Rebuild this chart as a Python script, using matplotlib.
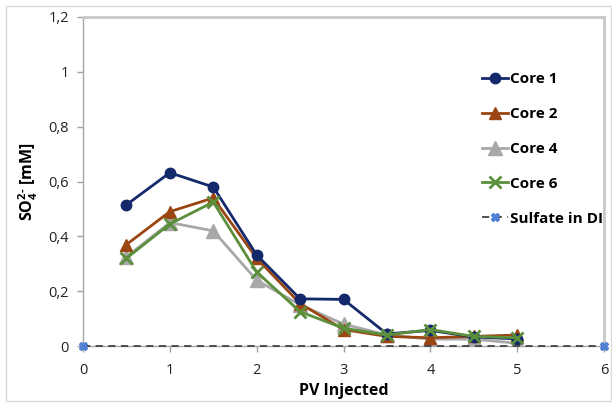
import matplotlib
matplotlib.use("Agg")
import matplotlib.pyplot as plt
from matplotlib.patches import Rectangle

plt.rcParams['font.family'] = ['Open Sans', 'DejaVu Sans']
plt.rcParams['mathtext.fontset'] = 'custom'
plt.rcParams['mathtext.bf'] = 'Open Sans:bold'
plt.rcParams['mathtext.rm'] = 'Open Sans:bold'
plt.rcParams['mathtext.default'] = 'bf'

pv = [0.5, 1, 1.5, 2, 2.5, 3, 3.5, 4, 4.5, 5]
core1 = [0.515, 0.632, 0.58, 0.332, 0.172, 0.17, 0.044, 0.057, 0.033, 0.026]
core2 = [0.37, 0.49, 0.54, 0.32, 0.155, 0.06, 0.035, 0.03, 0.035, 0.04]
core4 = [0.325, 0.45, 0.42, 0.24, 0.15, 0.08, 0.04, 0.025, 0.025, 0.01]
core6 = [0.32, 0.445, 0.525, 0.27, 0.125, 0.065, 0.04, 0.06, 0.035, 0.03]
di_x = [0, 6]
di_y = [0, 0]

yticks = [0, 0.2, 0.4, 0.6, 0.8, 1.0, 1.2]
ylabels = ['0', '0,2', '0,4', '0,6', '0,8', '1', '1,2']
xticks = [0, 1, 2, 3, 4, 5, 6]

fig = plt.figure(figsize=(6.12, 4.03), dpi=100)
ax = fig.add_axes([83/612, 57/403, 521/612, 329/403])

ax.plot(pv, core1, color='#14296b', lw=2, marker='o', ms=7.5, label='Core 1', zorder=5)
ax.plot(pv, core2, color='#9b4612', lw=2, marker='^', ms=8.5, label='Core 2', zorder=4)
ax.plot(pv, core4, color='#a8a8a8', lw=2, marker='^', ms=10, label='Core 4', zorder=3)
ax.plot(pv, core6, color='#5b8f3c', lw=2, marker='x', ms=9, mew=2, label='Core 6', zorder=6)
ax.plot(di_x, di_y, color='#444444', lw=1.3, ls=(0, (4, 3)), marker='X', ms=6,
        mfc='#4f81d6', mec='#4f81d6', label='Sulfate in DI', zorder=7, clip_on=False)

ax.set_xlim(0, 6)
ax.set_ylim(0, 1.2)
ax.set_xticks(xticks)
ax.set_yticks(yticks)
ax.set_yticklabels(ylabels)
ax.tick_params(axis='both', labelsize=10.5, color='#a0a0a0', length=4, width=1,
               labelcolor='#222222', pad=6)
ax.tick_params(axis='x', pad=8)

for side in ['left', 'bottom']:
    ax.spines[side].set_color('#a6a6a6')
    ax.spines[side].set_linewidth(1)
for side in ['top', 'right']:
    ax.spines[side].set_color('#c8c8c8')
    ax.spines[side].set_linewidth(2)

ax.set_xlabel('PV Injected', fontsize=11.5, fontweight='bold', labelpad=4)
ax.set_ylabel(r'SO$_4^{2\text{-}}$ [mM]', fontsize=11.5, fontweight='bold', labelpad=6)

leg = ax.legend(loc='upper left', bbox_to_anchor=(0.755, 0.85), frameon=False,
                prop={'weight': 'bold', 'size': 11}, labelspacing=1.36,
                handlelength=1.7, handletextpad=0.1, borderaxespad=0)

# outer chart frame
fig.patches.append(Rectangle((6/612, 2/403), 605/612, 395/403, transform=fig.transFigure,
                             fill=False, edgecolor='#d9d9d9', lw=1))

fig.savefig('out.png', dpi=100)
